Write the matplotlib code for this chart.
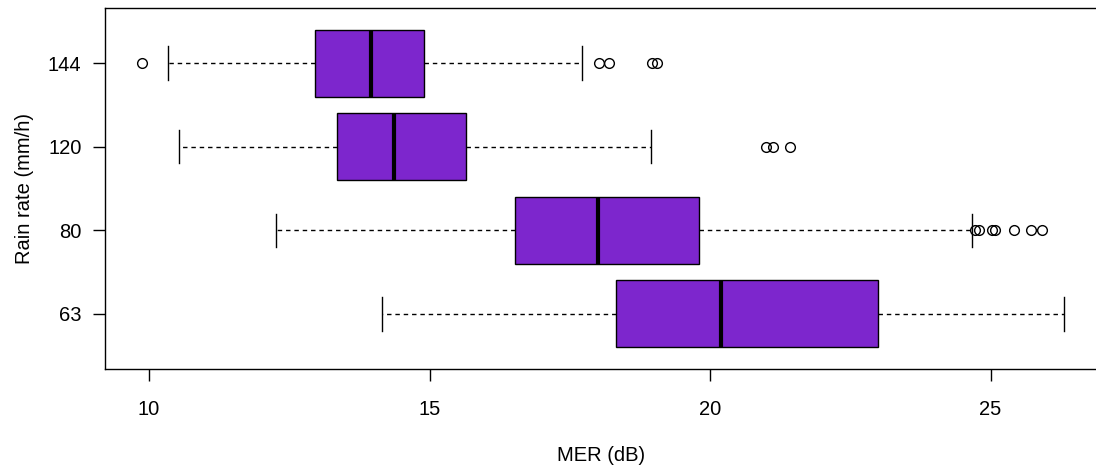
import matplotlib
matplotlib.use("Agg")
import matplotlib.pyplot as plt

plt.rcParams['font.family'] = ['Liberation Sans', 'DejaVu Sans']

# Rain-rate groups (bottom to top) and their MER box statistics (dB)
rain_rates = ["63", "80", "120", "144"]
whisker_low = [14.15, 12.26, 10.53, 10.34]
q1 = [18.32, 16.53, 13.35, 12.96]
median = [20.19, 18.00, 14.36, 13.95]
q3 = [22.99, 19.81, 15.65, 14.90]
whisker_high = [26.31, 24.66, 18.94, 17.71]
outliers = [
    [],
    [24.72, 24.80, 25.02, 25.08, 25.41, 25.72, 25.91],
    [21.00, 21.13, 21.43],
    [9.87, 18.02, 18.19, 18.96, 19.05],
]
x_ticks = [10, 15, 20, 25]

stats = []
for i, name in enumerate(rain_rates):
    stats.append(dict(label=name, whislo=whisker_low[i], q1=q1[i], med=median[i],
                      q3=q3[i], whishi=whisker_high[i], fliers=outliers[i]))

fig = plt.figure(figsize=(10.96, 4.71), dpi=100)
ax = fig.add_axes([105 / 1096, (471 - 369) / 471, (1097 - 105) / 1096, (369 - 8) / 471])

positions = list(range(1, len(rain_rates) + 1))
ax.bxp(stats, positions=positions, vert=False, widths=0.8, patch_artist=True,
       showfliers=True,
       boxprops=dict(facecolor="#7D26CD", edgecolor="black", linewidth=1.0),
       medianprops=dict(color="black", linewidth=3.0, solid_capstyle="butt"),
       whiskerprops=dict(color="black", linewidth=1.0, linestyle=(0, (3.2, 2.8))),
       capprops=dict(color="black", linewidth=1.0),
       capwidths=0.4,
       flierprops=dict(marker="o", markerfacecolor="none", markeredgecolor="black",
                       markersize=7, markeredgewidth=1.0, linestyle="none"))

ax.set_xlim(9.216, 26.896)
ax.set_ylim(0.34, 4.66)
ax.set_xticks(x_ticks)
ax.set_xticklabels([str(t) for t in x_ticks])
ax.set_yticks(positions)
ax.set_yticklabels(rain_rates)

for side in ax.spines.values():
    side.set_linewidth(1.0)
    side.set_color("black")

ax.tick_params(axis="x", direction="out", length=8.6, width=1.0, pad=14, labelsize=14.5)
ax.tick_params(axis="y", direction="out", length=9, width=1.0, pad=8, labelsize=14.5)

ax.set_xlabel("MER (dB)", fontsize=14.5, labelpad=19)
ax.set_ylabel("Rain rate (mm/h)", fontsize=14.5, labelpad=10)

fig.savefig("out.png", dpi=100)
